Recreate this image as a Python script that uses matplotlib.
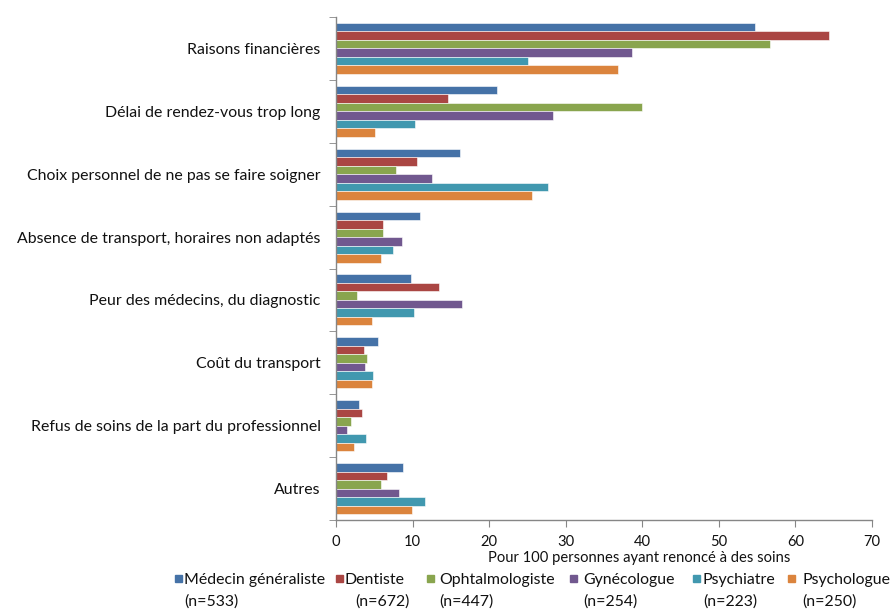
import matplotlib.pyplot as plt
import numpy as np
from matplotlib.patches import Rectangle

plt.rcParams['font.family'] = ['Lato', 'DejaVu Sans']

categories = ['Raisons financières', 'Délai de rendez-vous trop long',
              'Choix personnel de ne pas se faire soigner',
              'Absence de transport, horaires non adaptés',
              'Peur des médecins, du diagnostic', 'Coût du transport',
              'Refus de soins de la part du professionnel', 'Autres']

series = ['Médecin généraliste', 'Dentiste', 'Ophtalmologiste',
          'Gynécologue', 'Psychiatre', 'Psychologue']
counts = ['(n=533)', '(n=672)', '(n=447)', '(n=254)', '(n=223)', '(n=250)']

medecin = [54.7, 21.0, 16.2, 11.0, 9.8, 5.5, 3.0, 8.7]
dentiste = [64.4, 14.6, 10.6, 6.2, 13.4, 3.6, 3.4, 6.7]
ophtalmo = [56.7, 40.0, 7.9, 6.2, 2.8, 4.1, 1.9, 5.9]
gyneco = [38.6, 28.4, 12.5, 8.6, 16.5, 3.8, 1.5, 8.2]
psychiatre = [25.1, 10.3, 27.7, 7.5, 10.2, 4.8, 3.9, 11.6]
psychologue = [36.8, 5.1, 25.6, 5.9, 4.7, 4.7, 2.3, 9.9]

values = [medecin, dentiste, ophtalmo, gyneco, psychiatre, psychologue]
colors = ['#4572A7', '#AA4643', '#89A54E', '#71588F', '#4198AF', '#DB843D']

fig = plt.figure(figsize=(8.91, 6.10), dpi=100)
ax = fig.add_axes([336 / 891, 1 - 520 / 610, 536 / 891, 503 / 610])

y = np.arange(len(categories))
h = 0.135
for j, (vals, c) in enumerate(zip(values, colors)):
    ax.barh(y + (j - 2.5) * h, vals, height=h, color=c,
            edgecolor='white', linewidth=0.4)

ax.set_xlim(0, 70)
ax.set_ylim(len(categories) - 0.5, -0.5)
ax.set_xticks(np.arange(0, 71, 10))
ax.set_yticks(y)
ax.set_yticklabels(categories)
ax.set_yticks(np.arange(-0.5, len(categories), 1), minor=True)

grey = '#868686'
for s in ['top', 'right']:
    ax.spines[s].set_visible(False)
for s in ['left', 'bottom']:
    ax.spines[s].set_color(grey)
    ax.spines[s].set_linewidth(1)

ax.tick_params(axis='y', which='major', length=0, pad=11, labelsize=11.4,
               labelcolor='#111111')
ax.tick_params(axis='y', which='minor', length=5, color=grey, direction='out')
ax.tick_params(axis='x', length=5, color=grey, direction='out', pad=6,
               labelsize=10.6, labelcolor='#111111')

fig.text(639 / 891, 1 - 558 / 610, 'Pour 100 personnes ayant renoncé à des soins',
         ha='center', va='center', fontsize=10.6, color='#111111')

# legend drawn by hand: square marker, name, then sample size below
marker_x = [175, 336, 427, 570, 693, 788]
text_x = [184, 345, 439, 583, 702, 802]
count_x = [184, 355, 439, 583, 703, 802]
for mx, tx, cx, name, n, c in zip(marker_x, text_x, count_x, series, counts, colors):
    fig.patches.append(Rectangle((mx / 891, 1 - 582 / 610), 7 / 891, 7 / 610,
                                 transform=fig.transFigure, color=c))
    fig.text(tx / 891, 1 - 580 / 610, name, ha='left', va='center',
             fontsize=11.4, color='#111111')
    fig.text(cx / 891, 1 - 602 / 610, n, ha='left', va='center',
             fontsize=11.4, color='#111111')

plt.savefig('out.png', dpi=100)
